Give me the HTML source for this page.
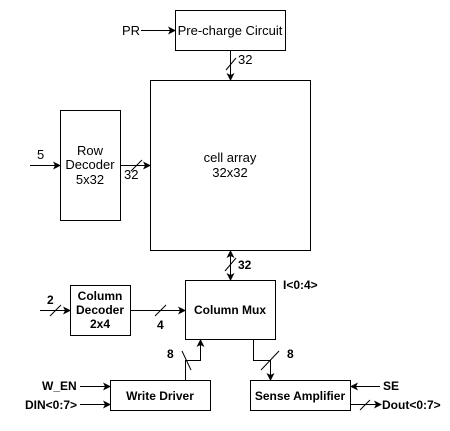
<!DOCTYPE html>
<html><head><style>body{margin:0;background:#fff}svg{display:block}text{font-family:"Liberation Sans",Arial,sans-serif;font-size:13px;fill:#000}text.b{font-weight:bold;font-size:12px}</style></head><body>
<svg width="450" height="431" viewBox="0 0 450 431">
<defs><marker id="a" markerWidth="8" markerHeight="8" refX="7" refY="4" orient="auto" markerUnits="userSpaceOnUse"><path d="M0,0 L8,4 L0,8 L2,4 z" fill="#000"/></marker>
<marker id="b" markerWidth="8" markerHeight="8" refX="1" refY="4" orient="auto" markerUnits="userSpaceOnUse"><path d="M8,0 L0,4 L8,8 L6,4 z" fill="#000"/></marker></defs>
<g fill="none" stroke="#000" stroke-width="1">
<rect x="175.5" y="10.5" width="110" height="40"/>
<rect x="150.5" y="80.5" width="160" height="170"/>
<rect x="60.5" y="110.5" width="60" height="110"/>
<rect x="185.5" y="280.5" width="90" height="59"/>
<rect x="70.5" y="285.5" width="60" height="50"/>
<rect x="110.5" y="380.5" width="100" height="30"/>
<rect x="250.5" y="380.5" width="100" height="30"/>
<line x1="141" y1="30.5" x2="175" y2="30.5" marker-end="url(#a)"/>
<line x1="230.5" y1="51" x2="230.5" y2="80" marker-end="url(#a)"/>
<line x1="226" y1="70" x2="236" y2="58"/>
<line x1="30" y1="165.5" x2="60" y2="165.5" marker-end="url(#a)"/>
<line x1="121" y1="165.5" x2="150" y2="165.5" marker-end="url(#a)"/>
<line x1="131" y1="171" x2="142" y2="160"/>
<line x1="230.5" y1="251" x2="230.5" y2="280" marker-start="url(#b)" marker-end="url(#a)"/>
<line x1="225" y1="271" x2="236" y2="258"/>
<line x1="40" y1="310.5" x2="70" y2="310.5" marker-end="url(#a)"/>
<line x1="50" y1="316" x2="61" y2="305"/>
<line x1="131" y1="310.5" x2="185" y2="310.5" marker-end="url(#a)"/>
<line x1="155" y1="316" x2="166" y2="305"/>
<polyline points="185.5,380 185.5,360.5 200.5,360.5 200.5,340" marker-end="url(#a)"/>
<line x1="182" y1="351" x2="191" y2="370"/>
<polyline points="253.5,340 253.5,360.5 270.5,360.5 270.5,380" marker-end="url(#a)"/>
<line x1="261" y1="370" x2="279" y2="351"/>
<line x1="80" y1="386.5" x2="110" y2="386.5" marker-end="url(#a)"/>
<line x1="80" y1="404.5" x2="110" y2="404.5" marker-end="url(#a)"/>
<line x1="380" y1="386.5" x2="351" y2="386.5" marker-end="url(#a)"/>
<line x1="351" y1="404.5" x2="381" y2="404.5" marker-end="url(#a)"/>
<line x1="360" y1="410" x2="370" y2="400"/>
</g>
<text x="230" y="35" text-anchor="middle">Pre-charge Circuit</text>
<text x="122" y="35">PR</text>
<text x="238" y="64">32</text>
<text x="230" y="162" text-anchor="middle">cell array</text>
<text x="230" y="177" text-anchor="middle">32x32</text>
<text x="90" y="155" text-anchor="middle">Row</text>
<text x="90" y="169" text-anchor="middle">Decoder</text>
<text x="90" y="184" text-anchor="middle">5x32</text>
<text x="37" y="159">5</text>
<text x="124" y="179">32</text>
<text class="b" x="238" y="269">32</text>
<text class="b" x="230" y="314" text-anchor="middle">Column Mux</text>
<text class="b" x="283" y="289">I&lt;0:4&gt;</text>
<text class="b" x="100" y="300" text-anchor="middle">Column</text>
<text class="b" x="100" y="314" text-anchor="middle">Decoder</text>
<text class="b" x="100" y="328" text-anchor="middle">2x4</text>
<text class="b" x="47" y="304">2</text>
<text class="b" x="157" y="329">4</text>
<text class="b" x="167" y="358">8</text>
<text class="b" x="287" y="358">8</text>
<text class="b" x="160" y="400" text-anchor="middle">Write Driver</text>
<text class="b" x="300" y="400" text-anchor="middle">Sense Amplifier</text>
<text class="b" x="42" y="390">W_EN</text>
<text class="b" x="25" y="409">DIN&lt;0:7&gt;</text>
<text class="b" x="383" y="390">SE</text>
<text class="b" x="382" y="409">Dout&lt;0:7&gt;</text>
</svg>
</body></html>
